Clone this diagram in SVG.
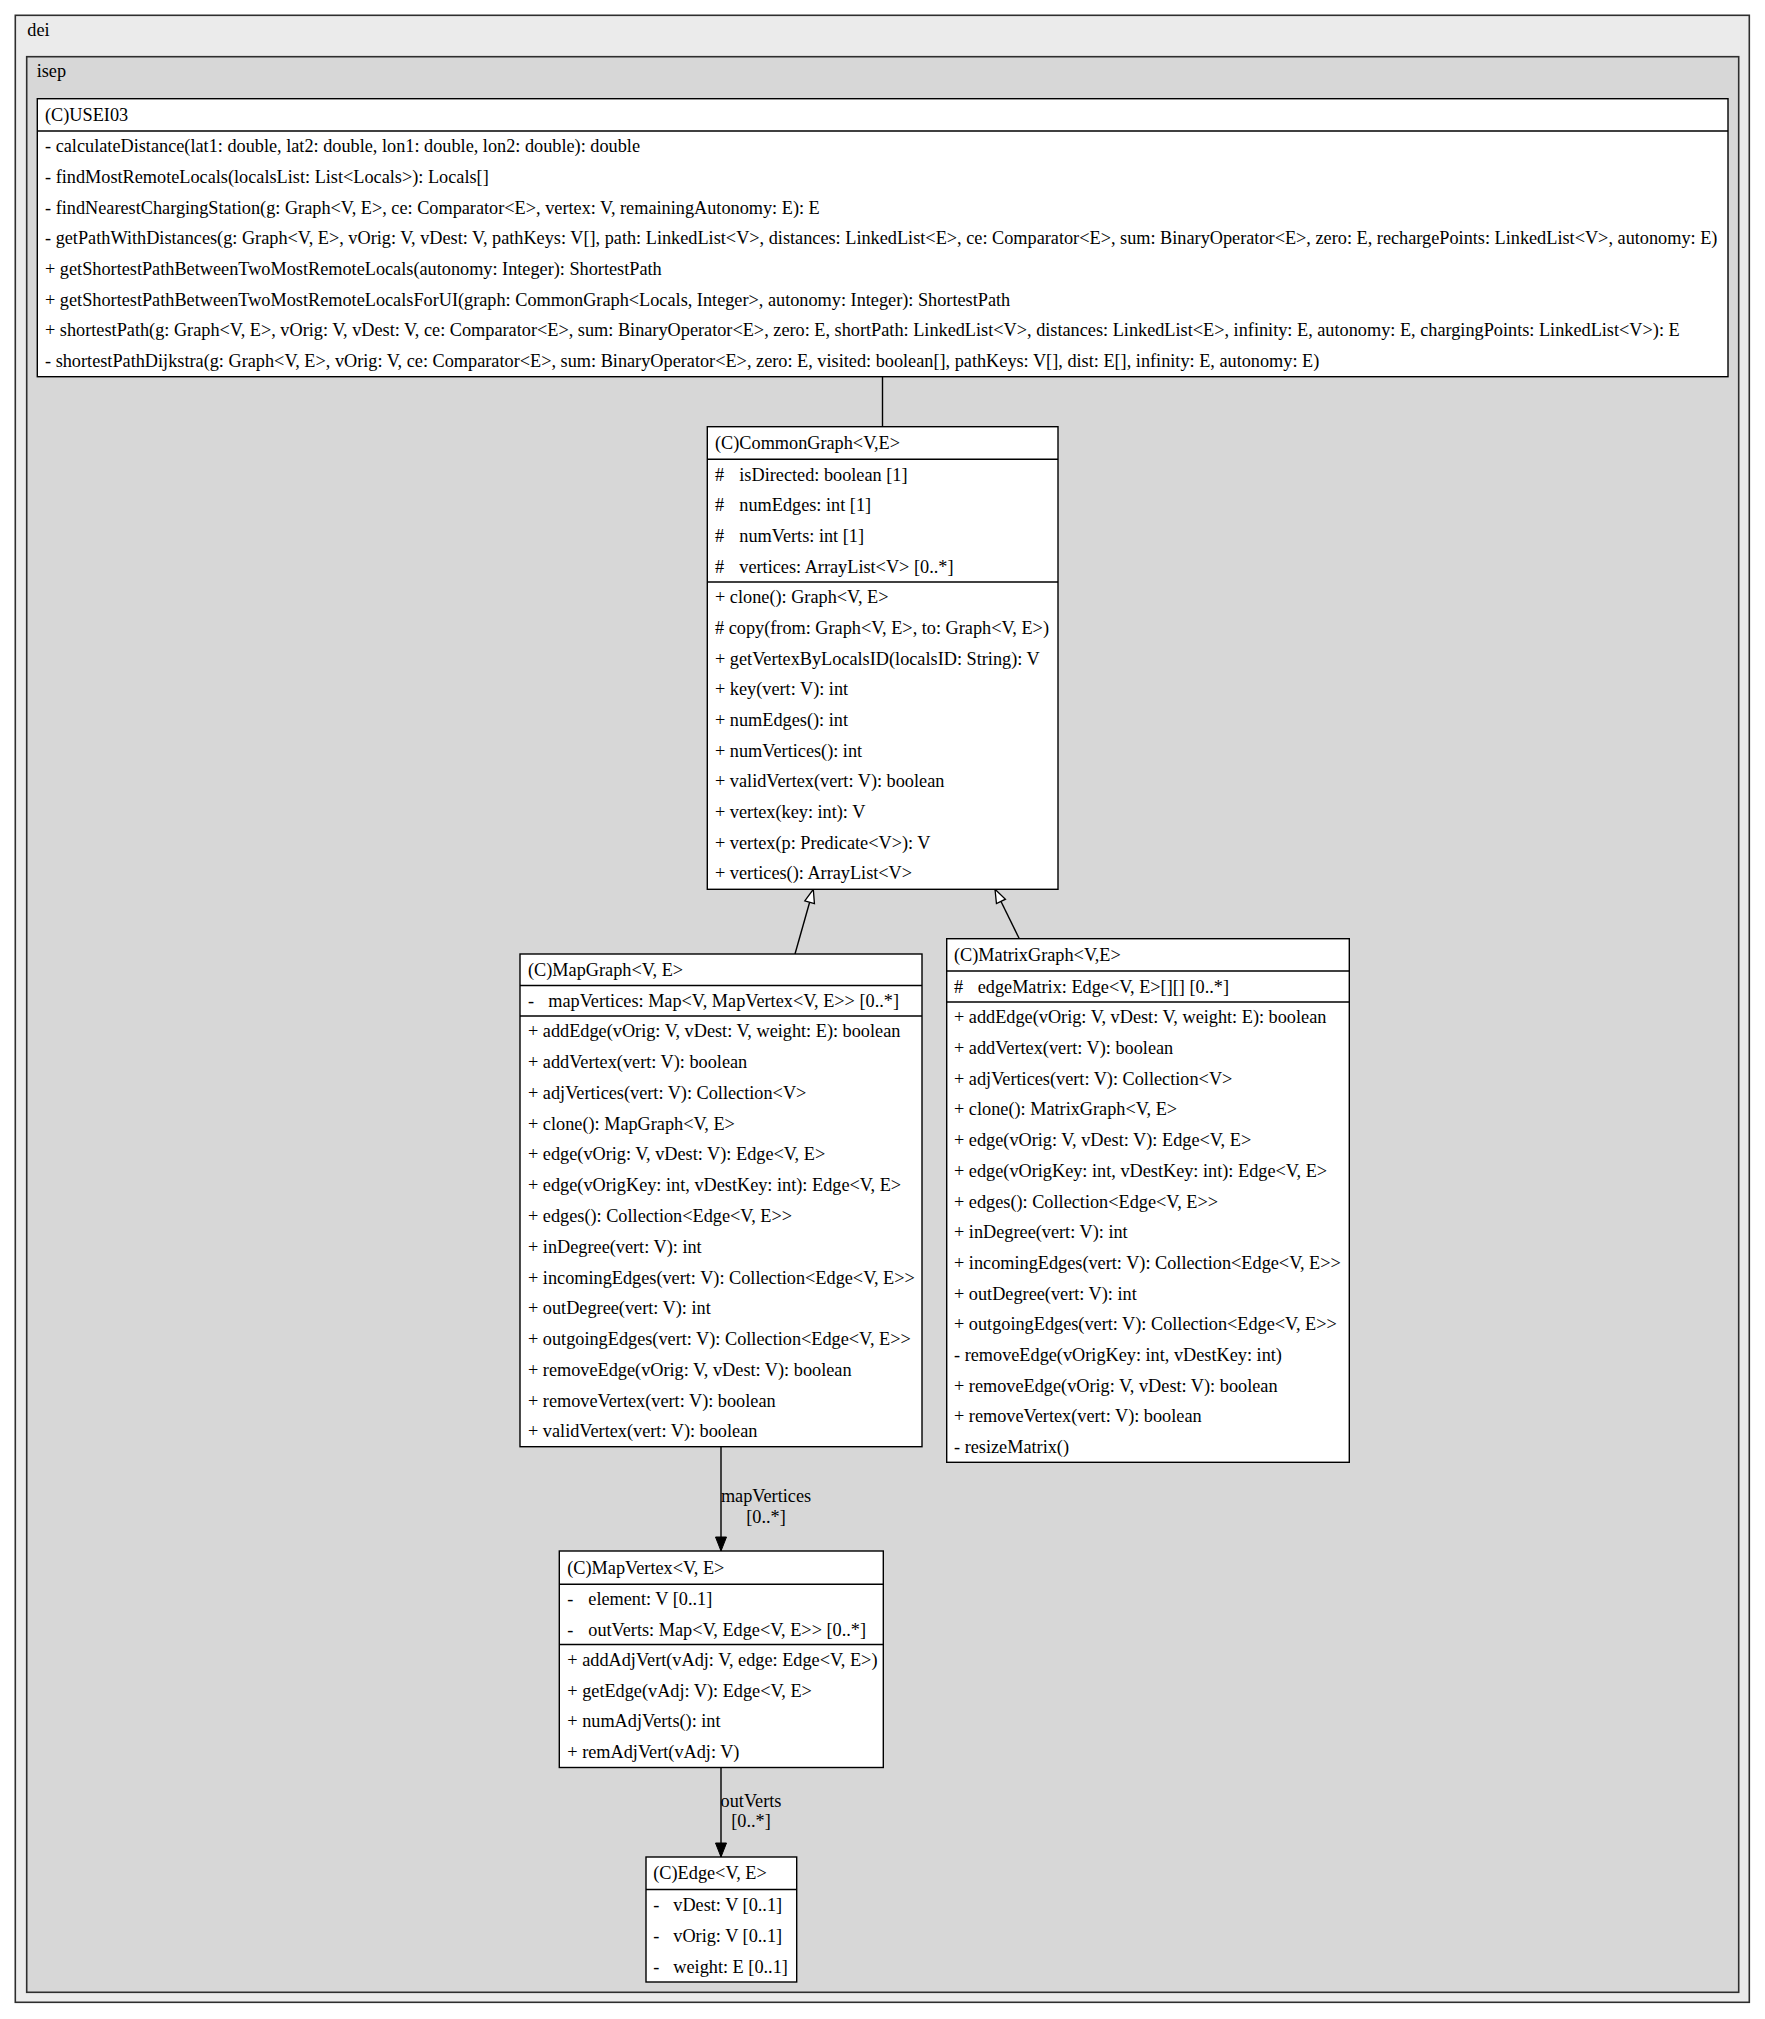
<svg xmlns="http://www.w3.org/2000/svg" width="1765" height="2019" viewBox="0 0 1765 2019">
  <style>
    .pkg1 { fill: #ebebeb; stroke: #2e2e2e; stroke-width: 1.6; }
    .pkg2 { fill: #d7d7d7; stroke: #2e2e2e; stroke-width: 1.6; }
    .box { fill: #ffffff; stroke: #000000; stroke-width: 1.4; }
    .sep { stroke: #000000; stroke-width: 1.4; }
    .edge { stroke: #000000; stroke-width: 1.4; fill: none; }
    text { font-family: "Liberation Serif", "Times New Roman", serif; font-size: 18.25px; fill: #000000; }
    .lbl { text-anchor: middle; }
  </style>
  <defs>
    <marker id="gen" markerUnits="userSpaceOnUse" markerWidth="16" markerHeight="12" refX="14" refY="5.5" orient="auto" overflow="visible">
      <path d="M0.5,0.5 L14,5.5 L0.5,10.5 Z" fill="#ffffff" stroke="#000000" stroke-width="1.3"/>
    </marker>
    <marker id="arr" markerUnits="userSpaceOnUse" markerWidth="16" markerHeight="12" refX="14" refY="5.5" orient="auto" overflow="visible">
      <path d="M0,0 L14,5.5 L0,11 Z" fill="#000000" stroke="#000000" stroke-width="1"/>
    </marker>
  </defs>

  <!-- package clusters -->
  <g id="pkg-dei">
    <rect class="pkg1" x="15.3" y="15.3" width="1734" height="1987"/>
    <text x="27.3" y="36">dei</text>
  </g>
  <g id="pkg-isep">
    <rect class="pkg2" x="26.7" y="56.7" width="1712" height="1935.6"/>
    <text x="36.7" y="77.3">isep</text>
  </g>

  <!-- connectors -->
  <g id="connectors">
    <line class="edge" x1="882.5" y1="376.7" x2="882.5" y2="426.7"/>
    <line class="edge" x1="795" y1="954" x2="813.3" y2="889.3" marker-end="url(#gen)"/>
    <line class="edge" x1="1019.3" y1="938.7" x2="995" y2="889.3" marker-end="url(#gen)"/>
    <line class="edge" x1="721" y1="1446.7" x2="721" y2="1551" marker-end="url(#arr)"/>
    <text class="lbl" x="766" y="1501.7">mapVertices</text>
    <text class="lbl" x="766" y="1522.7">[0..*]</text>
    <line class="edge" x1="721" y1="1767.5" x2="721" y2="1857" marker-end="url(#arr)"/>
    <text class="lbl" x="751" y="1806.7">outVerts</text>
    <text class="lbl" x="751" y="1826.7">[0..*]</text>
  </g>

  <!-- USEI03 -->
  <g id="USEI03">
    <rect class="box" x="37.3" y="98.7" width="1690.7" height="278"/>
    <line class="sep" x1="37.3" y1="131" x2="1728" y2="131"/>
    <text x="45" y="120.7">(C)USEI03</text>
    <text x="45" y="152.3">- calculateDistance(lat1: double, lat2: double, lon1: double, lon2: double): double</text>
    <text x="45" y="183">- findMostRemoteLocals(localsList: List&lt;Locals&gt;): Locals[]</text>
    <text x="45" y="213.7">- findNearestChargingStation(g: Graph&lt;V, E&gt;, ce: Comparator&lt;E&gt;, vertex: V, remainingAutonomy: E): E</text>
    <text x="45" y="244.4">- getPathWithDistances(g: Graph&lt;V, E&gt;, vOrig: V, vDest: V, pathKeys: V[], path: LinkedList&lt;V&gt;, distances: LinkedList&lt;E&gt;, ce: Comparator&lt;E&gt;, sum: BinaryOperator&lt;E&gt;, zero: E, rechargePoints: LinkedList&lt;V&gt;, autonomy: E)</text>
    <text x="45" y="275">+ getShortestPathBetweenTwoMostRemoteLocals(autonomy: Integer): ShortestPath</text>
    <text x="45" y="305.7">+ getShortestPathBetweenTwoMostRemoteLocalsForUI(graph: CommonGraph&lt;Locals, Integer&gt;, autonomy: Integer): ShortestPath</text>
    <text x="45" y="336.4">+ shortestPath(g: Graph&lt;V, E&gt;, vOrig: V, vDest: V, ce: Comparator&lt;E&gt;, sum: BinaryOperator&lt;E&gt;, zero: E, shortPath: LinkedList&lt;V&gt;, distances: LinkedList&lt;E&gt;, infinity: E, autonomy: E, chargingPoints: LinkedList&lt;V&gt;): E</text>
    <text x="45" y="367">- shortestPathDijkstra(g: Graph&lt;V, E&gt;, vOrig: V, ce: Comparator&lt;E&gt;, sum: BinaryOperator&lt;E&gt;, zero: E, visited: boolean[], pathKeys: V[], dist: E[], infinity: E, autonomy: E)</text>
  </g>

  <!-- CommonGraph -->
  <g id="CommonGraph">
    <rect class="box" x="707.3" y="426.7" width="350.7" height="462.6"/>
    <line class="sep" x1="707.3" y1="459.3" x2="1058" y2="459.3"/>
    <line class="sep" x1="707.3" y1="582" x2="1058" y2="582"/>
    <text x="715" y="448.5">(C)CommonGraph&lt;V,E&gt;</text>
    <text x="715" y="480.7">#</text><text x="739.3" y="480.7">isDirected: boolean [1]</text>
    <text x="715" y="511.3">#</text><text x="739.3" y="511.3">numEdges: int [1]</text>
    <text x="715" y="542">#</text><text x="739.3" y="542">numVerts: int [1]</text>
    <text x="715" y="572.7">#</text><text x="739.3" y="572.7">vertices: ArrayList&lt;V&gt; [0..*]</text>
    <text x="715" y="603.3">+ clone(): Graph&lt;V, E&gt;</text>
    <text x="715" y="634"># copy(from: Graph&lt;V, E&gt;, to: Graph&lt;V, E&gt;)</text>
    <text x="715" y="664.7">+ getVertexByLocalsID(localsID: String): V</text>
    <text x="715" y="695.3">+ key(vert: V): int</text>
    <text x="715" y="726">+ numEdges(): int</text>
    <text x="715" y="756.7">+ numVertices(): int</text>
    <text x="715" y="787.3">+ validVertex(vert: V): boolean</text>
    <text x="715" y="818">+ vertex(key: int): V</text>
    <text x="715" y="848.7">+ vertex(p: Predicate&lt;V&gt;): V</text>
    <text x="715" y="879.3">+ vertices(): ArrayList&lt;V&gt;</text>
  </g>

  <!-- MapGraph -->
  <g id="MapGraph">
    <rect class="box" x="520" y="954" width="402" height="492.7"/>
    <line class="sep" x1="520" y1="985.5" x2="922" y2="985.5"/>
    <line class="sep" x1="520" y1="1016" x2="922" y2="1016"/>
    <text x="528" y="976">(C)MapGraph&lt;V, E&gt;</text>
    <text x="528" y="1006.8">-</text><text x="548.3" y="1006.8">mapVertices: Map&lt;V, MapVertex&lt;V, E&gt;&gt; [0..*]</text>
    <text x="528" y="1037.4">+ addEdge(vOrig: V, vDest: V, weight: E): boolean</text>
    <text x="528" y="1068.2">+ addVertex(vert: V): boolean</text>
    <text x="528" y="1098.9">+ adjVertices(vert: V): Collection&lt;V&gt;</text>
    <text x="528" y="1129.7">+ clone(): MapGraph&lt;V, E&gt;</text>
    <text x="528" y="1160.4">+ edge(vOrig: V, vDest: V): Edge&lt;V, E&gt;</text>
    <text x="528" y="1191.2">+ edge(vOrigKey: int, vDestKey: int): Edge&lt;V, E&gt;</text>
    <text x="528" y="1222">+ edges(): Collection&lt;Edge&lt;V, E&gt;&gt;</text>
    <text x="528" y="1252.7">+ inDegree(vert: V): int</text>
    <text x="528" y="1283.5">+ incomingEdges(vert: V): Collection&lt;Edge&lt;V, E&gt;&gt;</text>
    <text x="528" y="1314.2">+ outDegree(vert: V): int</text>
    <text x="528" y="1345">+ outgoingEdges(vert: V): Collection&lt;Edge&lt;V, E&gt;&gt;</text>
    <text x="528" y="1375.8">+ removeEdge(vOrig: V, vDest: V): boolean</text>
    <text x="528" y="1406.5">+ removeVertex(vert: V): boolean</text>
    <text x="528" y="1437.3">+ validVertex(vert: V): boolean</text>
  </g>

  <!-- MatrixGraph -->
  <g id="MatrixGraph">
    <rect class="box" x="946.7" y="938.7" width="402.6" height="523.6"/>
    <line class="sep" x1="946.7" y1="971" x2="1349.3" y2="971"/>
    <line class="sep" x1="946.7" y1="1002" x2="1349.3" y2="1002"/>
    <text x="954" y="961">(C)MatrixGraph&lt;V,E&gt;</text>
    <text x="954" y="992.5">#</text><text x="977.7" y="992.5">edgeMatrix: Edge&lt;V, E&gt;[][] [0..*]</text>
    <text x="954" y="1023.3">+ addEdge(vOrig: V, vDest: V, weight: E): boolean</text>
    <text x="954" y="1054">+ addVertex(vert: V): boolean</text>
    <text x="954" y="1084.7">+ adjVertices(vert: V): Collection&lt;V&gt;</text>
    <text x="954" y="1115.4">+ clone(): MatrixGraph&lt;V, E&gt;</text>
    <text x="954" y="1146.1">+ edge(vOrig: V, vDest: V): Edge&lt;V, E&gt;</text>
    <text x="954" y="1176.8">+ edge(vOrigKey: int, vDestKey: int): Edge&lt;V, E&gt;</text>
    <text x="954" y="1207.5">+ edges(): Collection&lt;Edge&lt;V, E&gt;&gt;</text>
    <text x="954" y="1238.1">+ inDegree(vert: V): int</text>
    <text x="954" y="1268.8">+ incomingEdges(vert: V): Collection&lt;Edge&lt;V, E&gt;&gt;</text>
    <text x="954" y="1299.5">+ outDegree(vert: V): int</text>
    <text x="954" y="1330.2">+ outgoingEdges(vert: V): Collection&lt;Edge&lt;V, E&gt;&gt;</text>
    <text x="954" y="1360.9">- removeEdge(vOrigKey: int, vDestKey: int)</text>
    <text x="954" y="1391.6">+ removeEdge(vOrig: V, vDest: V): boolean</text>
    <text x="954" y="1422.3">+ removeVertex(vert: V): boolean</text>
    <text x="954" y="1453">- resizeMatrix()</text>
  </g>

  <!-- MapVertex -->
  <g id="MapVertex">
    <rect class="box" x="559.3" y="1551" width="324" height="216.5"/>
    <line class="sep" x1="559.3" y1="1584.3" x2="883.3" y2="1584.3"/>
    <line class="sep" x1="559.3" y1="1644.5" x2="883.3" y2="1644.5"/>
    <text x="567.3" y="1573.6">(C)MapVertex&lt;V, E&gt;</text>
    <text x="567.3" y="1605.4">-</text><text x="588.3" y="1605.4">element: V [0..1]</text>
    <text x="567.3" y="1636">-</text><text x="588.3" y="1636">outVerts: Map&lt;V, Edge&lt;V, E&gt;&gt; [0..*]</text>
    <text x="567.3" y="1665.9">+ addAdjVert(vAdj: V, edge: Edge&lt;V, E&gt;)</text>
    <text x="567.3" y="1696.6">+ getEdge(vAdj: V): Edge&lt;V, E&gt;</text>
    <text x="567.3" y="1727.4">+ numAdjVerts(): int</text>
    <text x="567.3" y="1758.1">+ remAdjVert(vAdj: V)</text>
  </g>

  <!-- Edge -->
  <g id="Edge">
    <rect class="box" x="646" y="1857" width="150.7" height="125"/>
    <line class="sep" x1="646" y1="1889.5" x2="796.7" y2="1889.5"/>
    <text x="653.3" y="1878.8">(C)Edge&lt;V, E&gt;</text>
    <text x="653.3" y="1910.9">-</text><text x="673.3" y="1910.9">vDest: V [0..1]</text>
    <text x="653.3" y="1941.7">-</text><text x="673.3" y="1941.7">vOrig: V [0..1]</text>
    <text x="653.3" y="1972.5">-</text><text x="673.3" y="1972.5">weight: E [0..1]</text>
  </g>
</svg>
